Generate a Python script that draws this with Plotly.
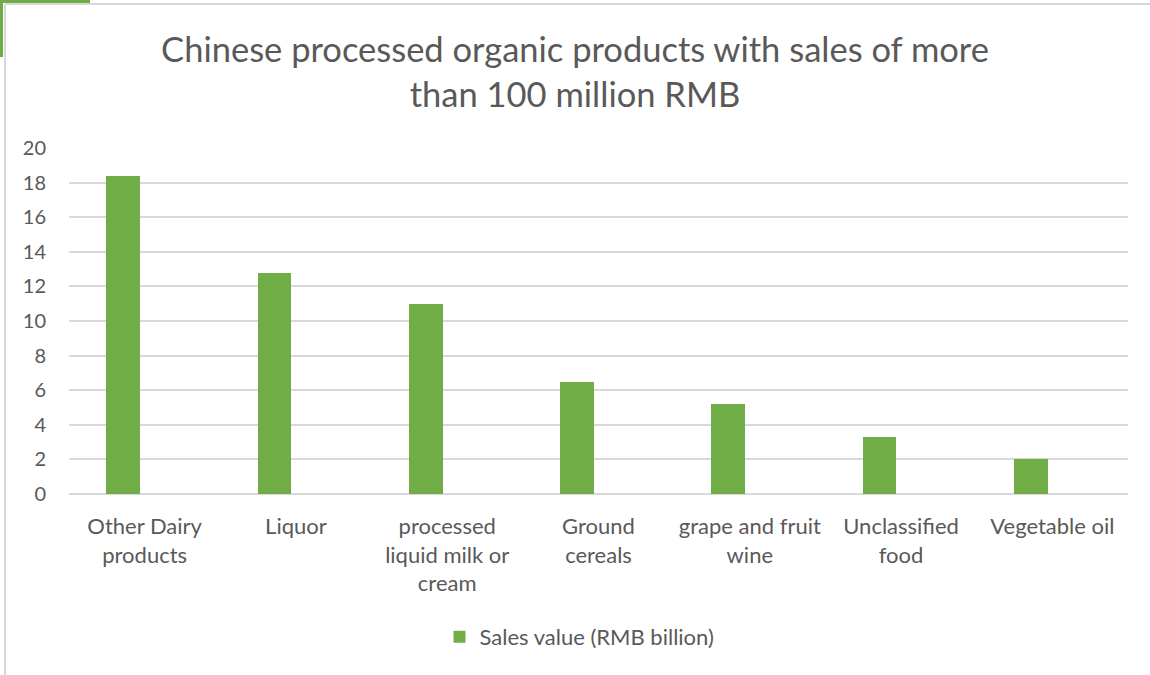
import plotly.graph_objects as go

# Chart data
categories = [
    "Other Dairy<br>products",
    "Liquor",
    "processed<br>liquid milk or<br>cream",
    "Ground<br>cereals",
    "grape and fruit<br>wine",
    "Unclassified<br>food",
    "Vegetable oil",
]
sales_value = [18.4, 12.8, 11.0, 6.5, 5.2, 3.3, 2.0]
series_name = "Sales value (RMB billion)"
y_ticks = list(range(0, 21, 2))

# Page geometry (pixels)
W, H = 1150, 675
ML, MR, MT, MB = 69, 22, 148, 181
PW, PH = W - ML - MR, H - MT - MB

GREEN = "#70AD47"
GRID = "#D9D9D9"
TEXT = "#595959"
FONT = "Lato, 'Open Sans', sans-serif"


def px_x(p):
    return (p - ML) / PW


def px_y(p):
    return (H - MB - p) / PH


positions = list(range(len(categories)))

fig = go.Figure()
fig.add_trace(go.Bar(
    x=positions,
    y=sales_value,
    name=series_name,
    marker=dict(color=GREEN, line=dict(width=0)),
    width=0.223,
    offset=-0.254,
    hoverinfo="skip",
    showlegend=True,
))

# Outer frame and corner accent
shapes = [
    dict(type="line", xref="paper", yref="paper",
         x0=px_x(5), x1=px_x(W + 5), y0=px_y(4), y1=px_y(4),
         line=dict(color="#D9D9D9", width=2)),
    dict(type="line", xref="paper", yref="paper",
         x0=px_x(5), x1=px_x(5), y0=px_y(4), y1=px_y(H + 5),
         line=dict(color="#D9D9D9", width=2)),
    dict(type="rect", xref="paper", yref="paper",
         x0=px_x(0), x1=px_x(90), y0=px_y(0), y1=px_y(3),
         fillcolor=GREEN, line=dict(width=0)),
    dict(type="rect", xref="paper", yref="paper",
         x0=px_x(0), x1=px_x(3), y0=px_y(0), y1=px_y(57),
         fillcolor=GREEN, line=dict(width=0)),
]

fig.update_layout(
    width=W,
    height=H,
    margin=dict(l=ML, r=MR, t=MT, b=MB, pad=0),
    paper_bgcolor="white",
    plot_bgcolor="white",
    font=dict(family=FONT, color=TEXT, size=20),
    title=dict(
        text="Chinese processed organic products with sales of more<br>than 100 million RMB",
        x=0.5, xanchor="center",
        y=1 - 62 / H, yanchor="middle",
        font=dict(family=FONT, size=34.5, color=TEXT),
    ),
    xaxis=dict(
        range=[-0.5, len(categories) - 0.5],
        tickmode="array",
        tickvals=positions,
        ticktext=categories,
        showgrid=False,
        zeroline=False,
        showline=False,
        ticks="",
        ticklabelstandoff=17,
        tickfont=dict(family=FONT, size=22, color=TEXT),
        fixedrange=True,
    ),
    yaxis=dict(
        range=[0, 20],
        tickmode="array",
        tickvals=y_ticks,
        showgrid=True,
        gridcolor=GRID,
        gridwidth=1.5,
        zeroline=True,
        zerolinecolor=GRID,
        zerolinewidth=1.5,
        showline=False,
        ticks="",
        ticklabelstandoff=22,
        tickfont=dict(family=FONT, size=20, color=TEXT),
        fixedrange=True,
    ),
    legend=dict(
        orientation="h",
        x=px_x(579.5), xanchor="center",
        y=px_y(637), yanchor="middle",
        font=dict(family=FONT, size=22, color=TEXT),
        itemsizing="constant",
        bgcolor="rgba(0,0,0,0)",
    ),
    shapes=shapes,
    bargap=0,
)

fig.write_html("out.html", config={"displayModeBar": False})
